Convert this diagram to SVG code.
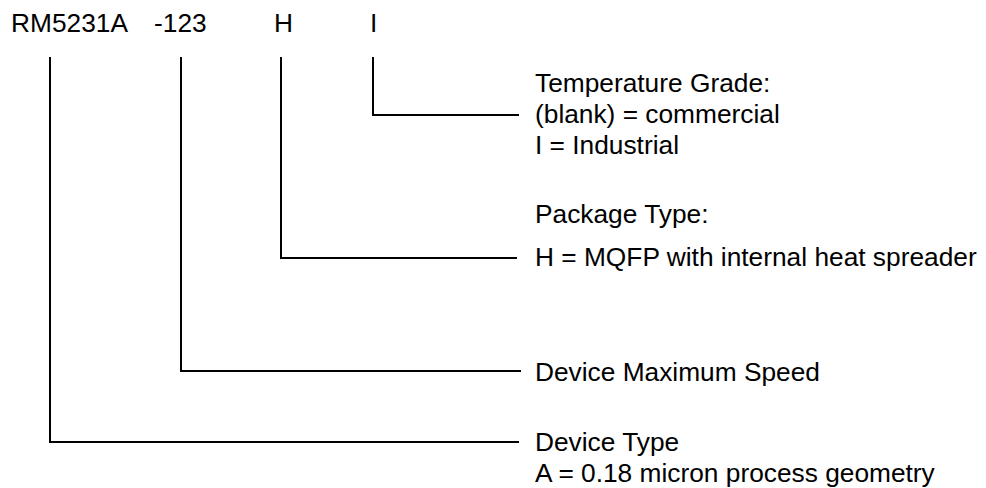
<svg xmlns="http://www.w3.org/2000/svg" width="986" height="488" viewBox="0 0 986 488">
  <style>
    text { font-family: "Liberation Sans", Arial, sans-serif; font-size: 26.3px; fill: #000; }
    .conn { fill: none; stroke: #000; stroke-width: 2; }
  </style>
  <rect width="986" height="488" fill="#fff"/>
  <g id="part-number">
    <text x="11" y="32">RM5231A</text>
    <text x="154" y="32">-123</text>
    <text x="274" y="32">H</text>
    <text x="370" y="32">I</text>
  </g>
  <g id="connectors">
    <polyline class="conn" points="373,57 373,115 519,115"/>
    <polyline class="conn" points="281,57 281,258 517,258"/>
    <polyline class="conn" points="181,57 181,371 521,371"/>
    <polyline class="conn" points="50,57 50,442 519,442"/>
  </g>
  <g id="temperature-grade">
    <text x="535" y="92">Temperature Grade:</text>
    <text x="535" y="123">(blank) = commercial</text>
    <text x="535" y="154">I = Industrial</text>
  </g>
  <g id="package-type">
    <text x="535" y="223">Package Type:</text>
    <text x="535" y="266">H = MQFP with internal heat spreader</text>
  </g>
  <g id="device-speed">
    <text x="535" y="381">Device Maximum Speed</text>
  </g>
  <g id="device-type">
    <text x="535" y="451">Device Type</text>
    <text x="535" y="482">A = 0.18 micron process geometry</text>
  </g>
</svg>
